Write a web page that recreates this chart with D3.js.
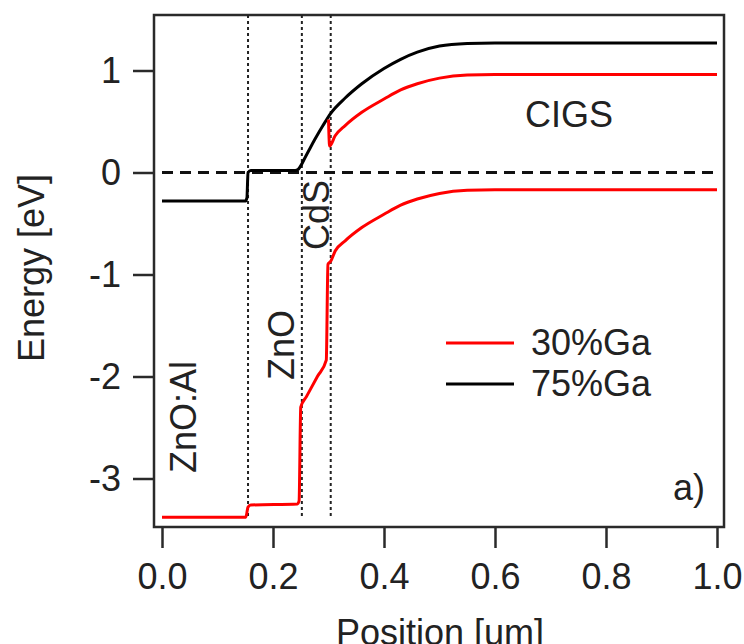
<!DOCTYPE html>
<html lang="en">
  <head>
    <meta charset="UTF-8" />
    <title>Band diagram</title>
    <script src="https://d3js.org/d3.v7.min.js"></script>
    <style>
      body { margin: 0; background: #fff; }
      text { font-family: "Liberation Sans", Arial, sans-serif; fill: #222; }
    </style>
  </head>
  <body>
    <svg width="744" height="644"></svg>

    <script>
      // data (position in um, energy in eV)
      const xTicks = [0, 0.2, 0.4, 0.6, 0.8, 1.0];
      const yTicks = [-3, -2, -1, 0, 1];
      const interfaces = [0.155, 0.252, 0.304];

      // 75%Ga conduction band
      const cb75X = [0, 0.150, 0.153, 0.155, 0.16, 0.24, 0.245, 0.26, 0.275, 0.29, 0.304, 0.33, 0.36, 0.40, 0.43, 0.46, 0.50, 0.55, 0.60, 1.0];
      const cb75Y = [-0.28, -0.28, -0.25, 0.0, 0.02, 0.02, 0.03, 0.17, 0.32, 0.46, 0.58, 0.73, 0.87, 1.02, 1.11, 1.18, 1.24, 1.265, 1.27, 1.27];

      // 30%Ga conduction band (the part not hidden under the black one)
      const cb30X = [0.300, 0.302, 0.312, 0.33, 0.36, 0.40, 0.43, 0.46, 0.50, 0.55, 0.60, 1.0];
      const cb30Y = [0.52, 0.26, 0.36, 0.46, 0.59, 0.72, 0.81, 0.87, 0.925, 0.955, 0.96, 0.96];

      // 30%Ga valence band
      const vb30X = [0, 0.151, 0.155, 0.16, 0.244, 0.247, 0.250, 0.26, 0.28, 0.296, 0.299, 0.304, 0.312, 0.33, 0.36, 0.40, 0.43, 0.46, 0.50, 0.55, 0.60, 1.0];
      const vb30Y = [-3.38, -3.38, -3.28, -3.26, -3.25, -3.22, -2.30, -2.20, -2.00, -1.84, -0.90, -0.87, -0.77, -0.67, -0.54, -0.41, -0.32, -0.26, -0.205, -0.175, -0.17, -0.17];

      const svg = d3.select("svg");
      const frameL = 154, frameR = 724, frameT = 15, frameB = 527;

      const x = d3.scaleLinear().domain([0, 1]).range([162, 717]);
      const y = d3.scaleLinear().domain([0, 1]).range([172.5, 70.5]);

      const frameColor = "#2a2a2a";
      const fontSize = 36;

      // axes
      const xAxis = d3.axisBottom(x).tickValues(xTicks).tickFormat(d3.format(".1f")).tickSize(21).tickPadding(15);
      const gx = svg.append("g").attr("transform", `translate(0,${frameB})`).call(xAxis);
      gx.select(".domain").remove();
      gx.selectAll(".tick line").attr("stroke", frameColor).attr("stroke-width", 2.5);
      gx.selectAll(".tick text").attr("font-size", fontSize).attr("fill", "#222");

      const yAxis = d3.axisLeft(y).tickValues(yTicks).tickFormat(d3.format("d")).tickSize(21).tickPadding(12);
      const gy = svg.append("g").attr("transform", `translate(${frameL},0)`).call(yAxis);
      gy.select(".domain").remove();
      gy.selectAll(".tick line").attr("stroke", frameColor).attr("stroke-width", 2.5);
      gy.selectAll(".tick text").attr("font-size", fontSize).attr("fill", "#222")
        .text(d => d < 0 ? "-" + Math.abs(d) : d);

      // frame
      svg.append("rect")
        .attr("x", frameL).attr("y", frameT)
        .attr("width", frameR - frameL).attr("height", frameB - frameT)
        .attr("fill", "none").attr("stroke", frameColor).attr("stroke-width", 2.5);

      // interface lines
      svg.selectAll(".iface").data(interfaces).enter().append("line")
        .attr("x1", d => x(d)).attr("x2", d => x(d))
        .attr("y1", frameT).attr("y2", 519)
        .attr("stroke", "#222").attr("stroke-width", 2)
        .attr("stroke-dasharray", "3,3");

      // Fermi level
      svg.append("line")
        .attr("x1", x(0)).attr("x2", x(1))
        .attr("y1", y(0)).attr("y2", y(0))
        .attr("stroke", "#111").attr("stroke-width", 3)
        .attr("stroke-dasharray", "11,7");

      const line = d3.line().x(d => x(d[0])).y(d => y(d[1])).curve(d3.curveMonotoneX);

      function curve(xs, ys, color) {
        svg.append("path")
          .datum(d3.zip(xs, ys))
          .attr("d", line)
          .attr("fill", "none")
          .attr("stroke", color)
          .attr("stroke-width", 3)
          .attr("stroke-linejoin", "round");
      }

      curve(cb75X, cb75Y, "#000");
      curve(cb30X, cb30Y, "#ff0000");
      curve(vb30X, vb30Y, "#ff0000");

      // legend
      const legend = [
        { name: "30%Ga", color: "#ff0000", yy: 343 },
        { name: "75%Ga", color: "#000", yy: 384 }
      ];
      legend.forEach(l => {
        svg.append("line").attr("x1", 446).attr("x2", 514)
          .attr("y1", l.yy).attr("y2", l.yy)
          .attr("stroke", l.color).attr("stroke-width", 3);
        svg.append("text").attr("x", 531).attr("y", l.yy + 12)
          .attr("font-size", fontSize).text(l.name);
      });

      // labels
      svg.append("text").attr("x", 525).attr("y", 127).attr("font-size", fontSize).text("CIGS");
      svg.append("text").attr("x", 705).attr("y", 500).attr("font-size", fontSize)
        .attr("text-anchor", "end").text("a)");

      const rotated = [
        { t: "ZnO:Al", px: 196, py: 473 },
        { t: "ZnO", px: 294, py: 380 },
        { t: "CdS", px: 329, py: 250 }
      ];
      rotated.forEach(r => {
        svg.append("text")
          .attr("transform", `translate(${r.px},${r.py}) rotate(-90)`)
          .attr("font-size", fontSize).text(r.t);
      });

      // axis titles
      svg.append("text")
        .attr("transform", `translate(44,268) rotate(-90)`)
        .attr("text-anchor", "middle").attr("font-size", fontSize)
        .text("Energy [eV]");
      svg.append("text")
        .attr("x", 440).attr("y", 645)
        .attr("text-anchor", "middle").attr("font-size", fontSize)
        .text("Position [um]");
    </script>
  </body>
</html>
